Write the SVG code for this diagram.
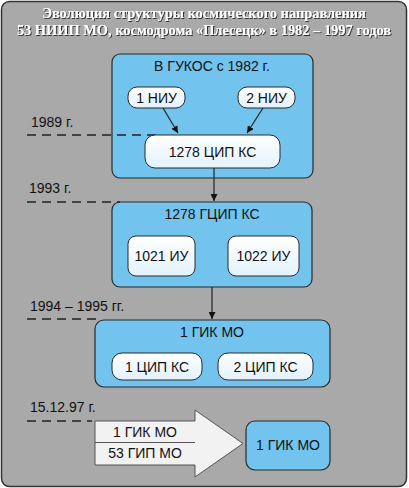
<svg xmlns="http://www.w3.org/2000/svg" width="409" height="488" viewBox="0 0 409 488">
<defs>
<linearGradient id="inner" x1="0" y1="0" x2="0" y2="1">
<stop offset="0" stop-color="#ffffff"/>
<stop offset="1" stop-color="#e2f2fc"/>
</linearGradient>
<marker id="ah" viewBox="0 0 10 10" refX="10" refY="5" markerWidth="7" markerHeight="7" orient="auto" markerUnits="userSpaceOnUse">
<path d="M0,0 L10,5 L0,10 z" fill="#111"/>
</marker>
<filter id="sh" x="-5%" y="-20%" width="110%" height="140%">
<feDropShadow dx="1" dy="1" stdDeviation="0.6" flood-color="#222" flood-opacity="0.9"/>
</filter>
</defs>
<style>
.big{fill:#72c3ed;stroke:#2a2a2a;stroke-width:1.2}
.in{fill:url(#inner);stroke:#2a2a2a;stroke-width:1}
.t{font-family:"Liberation Sans",Arial,sans-serif;font-size:14px;fill:#111;text-anchor:middle}
.lbl{font-family:"Liberation Sans",Arial,sans-serif;font-size:14px;fill:#111}
.dash{stroke:#222;stroke-width:1.5;stroke-dasharray:9,6;fill:none}
.ln{stroke:#222;stroke-width:1.2;fill:none}
.title{font-family:"Liberation Serif","Times New Roman",serif;font-weight:bold;font-size:14.4px;fill:#fff;text-anchor:middle}
</style>
<rect x="1.5" y="1.5" width="405" height="485" rx="8" fill="#a9a9a9" stroke="#333" stroke-width="1.5"/>
<g id="title" filter="url(#sh)">
<text class="title" x="204" y="18">Эволюция структуры космического направления</text>
<text class="title" x="204" y="35">53 НИИП МО, космодрома «Плесецк» в 1982 – 1997 годов</text>
</g>
<g id="gukos">
<rect class="big" x="112" y="54" width="201" height="124" rx="8"/>
<text class="t" x="212" y="71">В ГУКОС с 1982 г.</text>
</g>
<g id="niu1">
<rect class="in" x="128" y="87" width="57" height="21" rx="9"/>
<text class="t" x="156.5" y="103">1 НИУ</text>
</g>
<g id="niu2">
<rect class="in" x="238" y="87" width="57" height="21" rx="9"/>
<text class="t" x="266.5" y="103">2 НИУ</text>
</g>
<g id="gcip">
<rect class="big" x="112" y="202" width="200" height="85" rx="8"/>
<text class="t" x="212" y="219">1278 ГЦИП КС</text>
</g>
<g id="iu1021">
<rect class="in" x="128" y="236" width="67" height="40" rx="8"/>
<text class="t" x="161.5" y="261">1021 ИУ</text>
</g>
<g id="iu1022">
<rect class="in" x="228" y="236" width="71" height="40" rx="8"/>
<text class="t" x="263.5" y="261">1022 ИУ</text>
</g>
<g id="gik1">
<rect class="big" x="95" y="320" width="235" height="67" rx="9"/>
<text class="t" x="212" y="337">1 ГИК МО</text>
</g>
<g id="cipks1">
<rect class="in" x="112" y="353" width="90" height="27" rx="10"/>
<text class="t" x="157" y="371.5">1 ЦИП КС</text>
</g>
<g id="cipks2">
<rect class="in" x="218" y="353" width="95" height="27" rx="10"/>
<text class="t" x="265.5" y="371.5">2 ЦИП КС</text>
</g>
<g id="merge">
<path d="M95,421 H195 V410 L243,443.5 L195,477 V465 H95 Z" fill="#f2f2f2" stroke="#555" stroke-width="1"/>
<line x1="95" y1="442.5" x2="195" y2="442.5" stroke="#555" stroke-width="1"/>
<text class="t" x="145" y="436.5">1 ГИК МО</text>
<text class="t" x="145" y="457.5">53 ГИП МО</text>
</g>
<g id="gikfinal">
<rect class="big" x="246" y="421" width="84" height="49" rx="9"/>
<text class="t" x="288" y="450">1 ГИК МО</text>
</g>
<g id="dates">
<text class="lbl" x="31" y="127">1989 г.</text>
<line class="dash" x1="27" y1="135" x2="156" y2="135"/>
<text class="lbl" x="29" y="193">1993 г.</text>
<line class="dash" x1="27" y1="202" x2="120" y2="202"/>
<text class="lbl" x="30" y="311">1994 – 1995 гг.</text>
<line class="dash" x1="27" y1="319" x2="96" y2="319"/>
<text class="lbl" x="30" y="412">15.12.97 г.</text>
<line class="dash" x1="27" y1="421" x2="92" y2="421"/>
</g>
<g id="cip1278">
<rect class="in" x="145" y="135" width="135" height="33" rx="10"/>
<text class="t" x="212.5" y="156.5">1278 ЦИП КС</text>
</g>
<g id="connectors">
<line class="ln" x1="163" y1="108" x2="178" y2="133" marker-end="url(#ah)"/>
<line class="ln" x1="263" y1="108" x2="247" y2="133" marker-end="url(#ah)"/>
<line class="ln" x1="214" y1="168" x2="214" y2="201" marker-end="url(#ah)"/>
<line class="ln" x1="212" y1="287" x2="212" y2="319" marker-end="url(#ah)"/>
</g>
</svg>
